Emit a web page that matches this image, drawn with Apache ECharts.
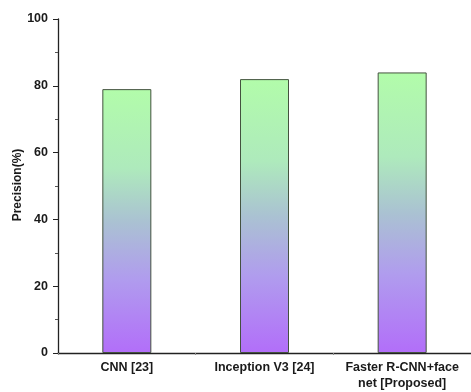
<!DOCTYPE html>
<html>
<head>
<meta charset="utf-8">
<script src="https://cdn.jsdelivr.net/npm/echarts@6/dist/echarts.min.js"></script>
<style>
  html, body { margin: 0; padding: 0; background: #ffffff; }
  #chart { width: 471px; height: 392px; }
</style>
</head>
<body>
<div id="chart"></div>
<script>
// Model names along the x axis
const categories = ['CNN [23]', 'Inception V3 [24]', 'Faster R-CNN+face\nnet [Proposed]'];
// Precision of each model, in percent
const precision = [79, 82, 84];
// Y axis range and step
const yTicks = [0, 20, 40, 60, 80, 100];

const chart = echarts.init(document.getElementById('chart'));

const barFill = new echarts.graphic.LinearGradient(0, 0, 0, 1, [
  { offset: 0, color: '#b2fcaa' },
  { offset: 0.3, color: '#aeeabc' },
  { offset: 0.5, color: '#aac2d2' },
  { offset: 0.72, color: '#b09cee' },
  { offset: 1, color: '#b26ef9' }
]);

const labelFont = {
  fontFamily: 'Liberation Sans, Arial, sans-serif',
  fontWeight: 'bold',
  fontSize: 12.5,
  color: '#1a1a1a'
};

chart.setOption({
  animation: false,
  grid: { left: 58, top: 19, width: 417, height: 334, containLabel: false },
  xAxis: [
    {
      type: 'category',
      data: categories,
      axisLine: { lineStyle: { color: '#222', width: 1.3 } },
      axisTick: { alignWithLabel: true, length: 5, lineStyle: { color: '#222' } },
      axisLabel: Object.assign({ margin: 7, lineHeight: 16, interval: 0 }, labelFont),
      splitLine: { show: false }
    },
    {
      // short ticks at the category boundaries
      type: 'category',
      data: categories,
      position: 'bottom',
      axisLine: { show: false },
      axisTick: { show: true, length: 2, lineStyle: { color: '#888' } },
      axisLabel: { show: false },
      splitLine: { show: false }
    }
  ],
  yAxis: {
    type: 'value',
    min: yTicks[0],
    max: yTicks[yTicks.length - 1],
    interval: yTicks[1] - yTicks[0],
    axisLine: { show: true, lineStyle: { color: '#222', width: 1.3 } },
    axisTick: { show: true, length: 5, lineStyle: { color: '#222' } },
    minorTick: { show: true, splitNumber: 2, length: 3, lineStyle: { color: '#555' } },
    axisLabel: Object.assign({ margin: 10 }, labelFont),
    splitLine: { show: false }
  },
  graphic: [{
    // y axis title, reading bottom to top
    type: 'text',
    x: 18,
    y: 185,
    rotation: Math.PI / 2,
    style: {
      text: 'Precision(%)',
      align: 'center',
      verticalAlign: 'middle',
      fill: '#1a1a1a',
      font: 'bold 12px "Liberation Sans", Arial, sans-serif'
    }
  }],
  series: [{
    type: 'bar',
    data: precision,
    barWidth: 49,
    itemStyle: {
      color: barFill,
      borderColor: '#44523f',
      borderWidth: 1
    }
  }]
});
</script>
</body>
</html>
